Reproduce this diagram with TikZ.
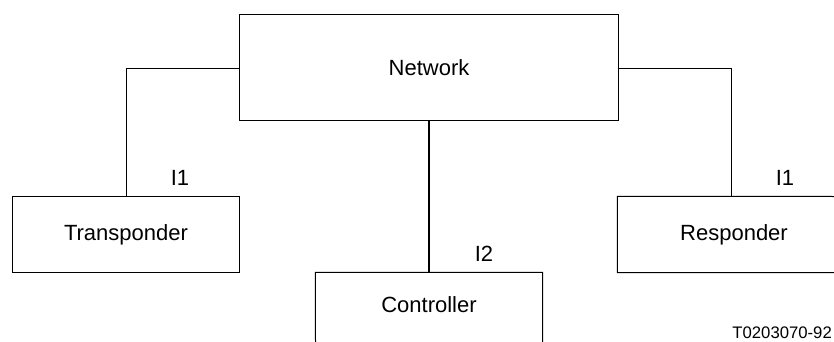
\documentclass[tikz,border=0pt]{standalone}
\usepackage{fontspec}
\setmainfont{Liberation Sans}
\begin{document}
\begin{tikzpicture}[x=1pt,y=-1pt,
  lbl/.style={font=\fontsize{22}{25}\selectfont, inner sep=0pt},
  small/.style={font=\fontsize{16.7}{19}\selectfont, inner sep=0pt},
  boxn/.style={draw, line width=1pt, rectangle, inner sep=0pt, font=\fontsize{22}{25}\selectfont},
  openn/.style={rectangle, inner sep=0pt, font=\fontsize{22}{25}\selectfont},
  wire/.style={line width=1pt},
  mainwire/.style={line width=2pt}]
\useasboundingbox (0,0) rectangle (834,342);
\node[boxn, minimum width=379pt, minimum height=106pt] (net) at (429,67.5) {Network};
\node[boxn, minimum width=227pt, minimum height=76pt] (trans) at (126,234.5) {Transponder};
\node[openn, minimum width=227pt, minimum height=65pt] (ctrl) at (429,305) {Controller};
\node[openn, minimum width=233pt, minimum height=76pt] (resp) at (734,234.5) {Responder};
\coordinate (ctrlbl) at (315.5,342);
\coordinate (ctrlbr) at (542.5,342);
\coordinate (resptr) at (834,196.5);
\coordinate (respbr) at (834,272.5);
\coordinate (leftcorner) at (126.5,68.5);
\coordinate (rightcorner) at (731.5,68.5);
% open boxes
\draw[wire] (ctrlbl) -- (ctrl.north west) -- (ctrl.north east) -- (ctrlbr);
\draw[wire] (resptr) -- (resp.north west) -- (resp.south west) -- (respbr);
% connectors
\draw[wire] (net.west |- leftcorner) -- (leftcorner) -- (leftcorner |- trans.north);
\draw[wire] (net.east |- rightcorner) -- (rightcorner) -- (rightcorner |- resp.north);
\draw[mainwire] (net.south) -- (ctrl.north);
% labels
\node[lbl] (i1a) at (180,178) {I1};
\node[lbl] (i2) at (484,254) {I2};
\node[lbl] (i1b) at (785,178) {I1};
\node[small, anchor=east] (tag) at (832,333) {T0203070-92};
\end{tikzpicture}
\end{document}
